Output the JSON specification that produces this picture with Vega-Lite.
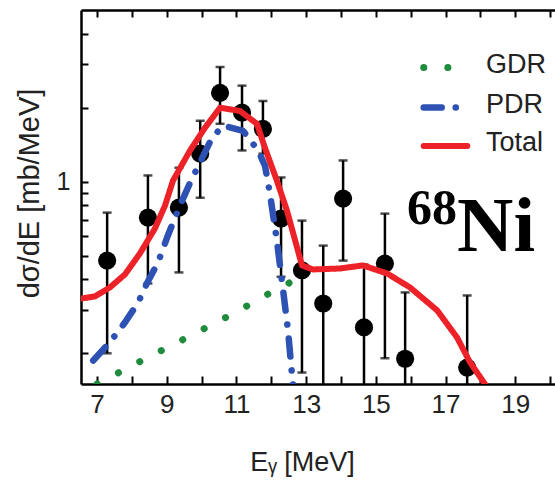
{
  "$schema": "https://vega.github.io/schema/vega-lite/v6.json",
  "width": 474,
  "height": 374,
  "autosize": {"type": "none"},
  "padding": {"left": 81, "top": 10, "right": 0, "bottom": 102},
  "background": "white",
  "config": {
    "view": {"stroke": null},
    "font": "Liberation Sans",
    "axis": {
      "grid": false,
      "domainColor": "black",
      "domainWidth": 2.5,
      "tickColor": "black",
      "tickWidth": 2,
      "labelColor": "#222222",
      "titleColor": "#222222",
      "titleFontWeight": "normal",
      "labelFont": "Liberation Sans",
      "titleFont": "Liberation Sans"
    }
  },
  "datasets": {
    "points": [
      {"E": 7.29, "y": 0.477, "lo": 0.2, "hi": 0.748},
      {"E": 8.46, "y": 0.714, "lo": 0.385, "hi": 1.06},
      {"E": 9.35, "y": 0.784, "lo": 0.427, "hi": 1.14},
      {"E": 9.96, "y": 1.3, "lo": 0.86, "hi": 1.77},
      {"E": 10.53, "y": 2.3, "lo": 1.72, "hi": 2.93},
      {"E": 11.16, "y": 1.91, "lo": 1.34, "hi": 2.46},
      {"E": 11.76, "y": 1.64, "lo": 1.3, "hi": 2.13},
      {"E": 12.28, "y": 0.707, "lo": 0.41, "hi": 1.04},
      {"E": 12.88, "y": 0.435, "lo": 0.167, "hi": 0.694},
      {"E": 13.49, "y": 0.319, "lo": 0.12, "hi": 0.549},
      {"E": 14.06, "y": 0.853, "lo": 0.477, "hi": 1.22},
      {"E": 14.66, "y": 0.255, "lo": 0.12, "hi": 0.46},
      {"E": 15.26, "y": 0.464, "lo": 0.191, "hi": 0.741},
      {"E": 15.84, "y": 0.19, "lo": 0.12, "hi": 0.354},
      {"E": 17.62, "y": 0.175, "lo": 0.12, "hi": 0.344}
    ],
    "curves": [
      {"model": "GDR", "E": 7.0, "v": 0.15},
      {"model": "GDR", "E": 8.35, "v": 0.189},
      {"model": "GDR", "E": 9.64, "v": 0.234},
      {"model": "GDR", "E": 10.96, "v": 0.293},
      {"model": "GDR", "E": 12.25, "v": 0.371},
      {"model": "GDR", "E": 12.95, "v": 0.415},
      {"model": "PDR", "E": 6.89, "v": 0.187},
      {"model": "PDR", "E": 7.37, "v": 0.222},
      {"model": "PDR", "E": 7.8, "v": 0.267},
      {"model": "PDR", "E": 8.18, "v": 0.322},
      {"model": "PDR", "E": 8.43, "v": 0.385},
      {"model": "PDR", "E": 8.75, "v": 0.469},
      {"model": "PDR", "E": 9.01, "v": 0.592},
      {"model": "PDR", "E": 9.38, "v": 0.8},
      {"model": "PDR", "E": 9.67, "v": 0.99},
      {"model": "PDR", "E": 10.3, "v": 1.51},
      {"model": "PDR", "E": 10.62, "v": 1.69},
      {"model": "PDR", "E": 11.19, "v": 1.61},
      {"model": "PDR", "E": 11.62, "v": 1.34},
      {"model": "PDR", "E": 11.82, "v": 1.16},
      {"model": "PDR", "E": 11.96, "v": 0.894},
      {"model": "PDR", "E": 12.16, "v": 0.576},
      {"model": "PDR", "E": 12.34, "v": 0.36},
      {"model": "PDR", "E": 12.48, "v": 0.248},
      {"model": "PDR", "E": 12.6, "v": 0.16},
      {"model": "PDR", "E": 12.65, "v": 0.139},
      {"model": "Total", "E": 6.54, "v": 0.334},
      {"model": "Total", "E": 6.94, "v": 0.341},
      {"model": "Total", "E": 7.37, "v": 0.371},
      {"model": "Total", "E": 7.8, "v": 0.419},
      {"model": "Total", "E": 8.23, "v": 0.51},
      {"model": "Total", "E": 8.66, "v": 0.644},
      {"model": "Total", "E": 8.95, "v": 0.799},
      {"model": "Total", "E": 9.18, "v": 1.01},
      {"model": "Total", "E": 9.67, "v": 1.34},
      {"model": "Total", "E": 10.1, "v": 1.66},
      {"model": "Total", "E": 10.53, "v": 2.0},
      {"model": "Total", "E": 11.1, "v": 1.94},
      {"model": "Total", "E": 11.59, "v": 1.72},
      {"model": "Total", "E": 11.82, "v": 1.37},
      {"model": "Total", "E": 12.16, "v": 1.01},
      {"model": "Total", "E": 12.45, "v": 0.762},
      {"model": "Total", "E": 12.88, "v": 0.456},
      {"model": "Total", "E": 13.2, "v": 0.439},
      {"model": "Total", "E": 13.97, "v": 0.443},
      {"model": "Total", "E": 14.63, "v": 0.456},
      {"model": "Total", "E": 15.32, "v": 0.423},
      {"model": "Total", "E": 15.98, "v": 0.371},
      {"model": "Total", "E": 16.76, "v": 0.299},
      {"model": "Total", "E": 17.33, "v": 0.232},
      {"model": "Total", "E": 17.7, "v": 0.184},
      {"model": "Total", "E": 18.13, "v": 0.15},
      {"model": "Total", "E": 18.3, "v": 0.138}
    ],
    "label": [{"iso": "68", "el": "Ni"}]
  },
  "resolve": {"axis": {"x": "independent"}},
  "layer": [
    {
      "data": {"name": "points"},
      "mark": {"type": "rule", "color": "black", "strokeWidth": 2.5, "clip": true},
      "encoding": {
        "x": {
          "field": "E", "type": "quantitative",
          "scale": {"domain": [6.54, 20.14], "nice": false, "zero": false},
          "axis": {
            "orient": "bottom",
            "values": [7, 8, 9, 10, 11, 12, 13, 14, 15, 16, 17, 18, 19, 20],
            "labelExpr": "datum.value % 2 == 1 ? datum.label : ''",
            "tickSize": -8,
            "labelFontSize": 26,
            "labelPadding": 15,
            "labelFlush": false,
            "title": "Eᵧ [MeV]",
            "titleFontSize": 27,
            "titleX": 221,
            "titleY": 86,
            "titleBaseline": "alphabetic",
            "titleAlign": "center",
            "titleAnchor": null
          }
        },
        "y": {
          "field": "lo", "type": "quantitative",
          "scale": {"type": "log", "domain": [0.15, 5], "nice": false},
          "title": "dσ/dE [mb/MeV]",
          "axis": {
            "values": [0.2, 0.3, 0.4, 0.5, 0.6, 0.7, 0.8, 0.9, 1, 2, 3, 4],
            "labelExpr": "datum.value == 1 ? '1' : ''",
            "tickSize": -7,
            "labelFontSize": 25,
            "labelPadding": 18,
            "titleFontSize": 29,
            "titleX": -37,
            "titleY": 183,
            "titleAngle": -90,
            "titleBaseline": "bottom",
            "titleAlign": "center",
            "titleAnchor": null
          }
        },
        "y2": {"field": "hi"}
      }
    },
    {
      "data": {"name": "points"},
      "mark": {"type": "tick", "orient": "horizontal", "color": "black", "size": 9, "thickness": 2.5, "clip": true},
      "encoding": {
        "x": {
          "field": "E", "type": "quantitative",
          "axis": {
            "orient": "top",
            "values": [7, 8, 9, 10, 11, 12, 13, 14, 15, 16, 17, 18, 19, 20],
            "labels": false,
            "tickSize": -7,
            "title": null
          }
        },
        "y": {"field": "lo", "type": "quantitative", "title": "dσ/dE [mb/MeV]"}
      }
    },
    {
      "data": {"name": "points"},
      "mark": {"type": "tick", "orient": "horizontal", "color": "black", "size": 9, "thickness": 2.5, "clip": true},
      "encoding": {
        "x": {"field": "E", "type": "quantitative", "axis": null},
        "y": {"field": "hi", "type": "quantitative", "title": "dσ/dE [mb/MeV]"}
      }
    },
    {
      "data": {"name": "points"},
      "mark": {"type": "point", "shape": "circle", "filled": true, "color": "black", "opacity": 1, "size": 330, "clip": true},
      "encoding": {
        "x": {"field": "E", "type": "quantitative", "axis": null},
        "y": {"field": "y", "type": "quantitative", "title": "dσ/dE [mb/MeV]"}
      }
    },
    {
      "data": {"name": "curves"},
      "mark": {"type": "line", "clip": true, "strokeCap": "round", "strokeJoin": "round"},
      "encoding": {
        "x": {"field": "E", "type": "quantitative", "axis": null},
        "y": {"field": "v", "type": "quantitative", "title": "dσ/dE [mb/MeV]"},
        "color": {
          "field": "model", "type": "nominal",
          "scale": {"domain": ["GDR", "PDR", "Total"], "range": ["#1e8c3c", "#2e52b4", "#ec2228"]},
          "legend": {
            "title": null,
            "orient": "none",
            "legendX": 339,
            "legendY": 32,
            "symbolType": "stroke",
            "symbolSize": 1900,
            "symbolStrokeWidth": 6,
            "labelFontSize": 27,
            "labelFont": "Liberation Sans",
            "labelColor": "#222222",
            "labelOffset": 15,
            "rowPadding": -9,
            "padding": 0,
            "encode": {
              "symbols": {"update": {"strokeCap": {"value": "round"}, "dy": {"value": 3}}},
              "labels": {"update": {"dy": {"value": -3}}}
            }
          }
        },
        "strokeDash": {
          "field": "model", "type": "nominal",
          "scale": {"domain": ["GDR", "PDR", "Total"], "range": [[0.1, 24], [18, 14, 0.1, 14], [1, 0]]}
        },
        "strokeWidth": {
          "field": "model", "type": "nominal",
          "scale": {"domain": ["GDR", "PDR", "Total"], "range": [7, 6, 6]},
          "legend": null
        }
      }
    },
    {
      "data": {"name": "label"},
      "mark": {"type": "text", "font": "Liberation Serif", "fontWeight": "bold", "fontSize": 50, "align": "right", "baseline": "alphabetic", "color": "black"},
      "encoding": {
        "text": {"field": "iso"},
        "x": {"datum": 17.33, "type": "quantitative", "axis": null},
        "y": {"datum": 0.675, "type": "quantitative", "title": "dσ/dE [mb/MeV]"}
      }
    },
    {
      "data": {"name": "label"},
      "mark": {"type": "text", "font": "Liberation Serif", "fontWeight": "bold", "fontSize": 78, "align": "left", "baseline": "alphabetic", "color": "black"},
      "encoding": {
        "text": {"field": "el"},
        "x": {"datum": 17.33, "type": "quantitative", "axis": null},
        "y": {"datum": 0.524, "type": "quantitative", "title": "dσ/dE [mb/MeV]"}
      }
    }
  ]
}
